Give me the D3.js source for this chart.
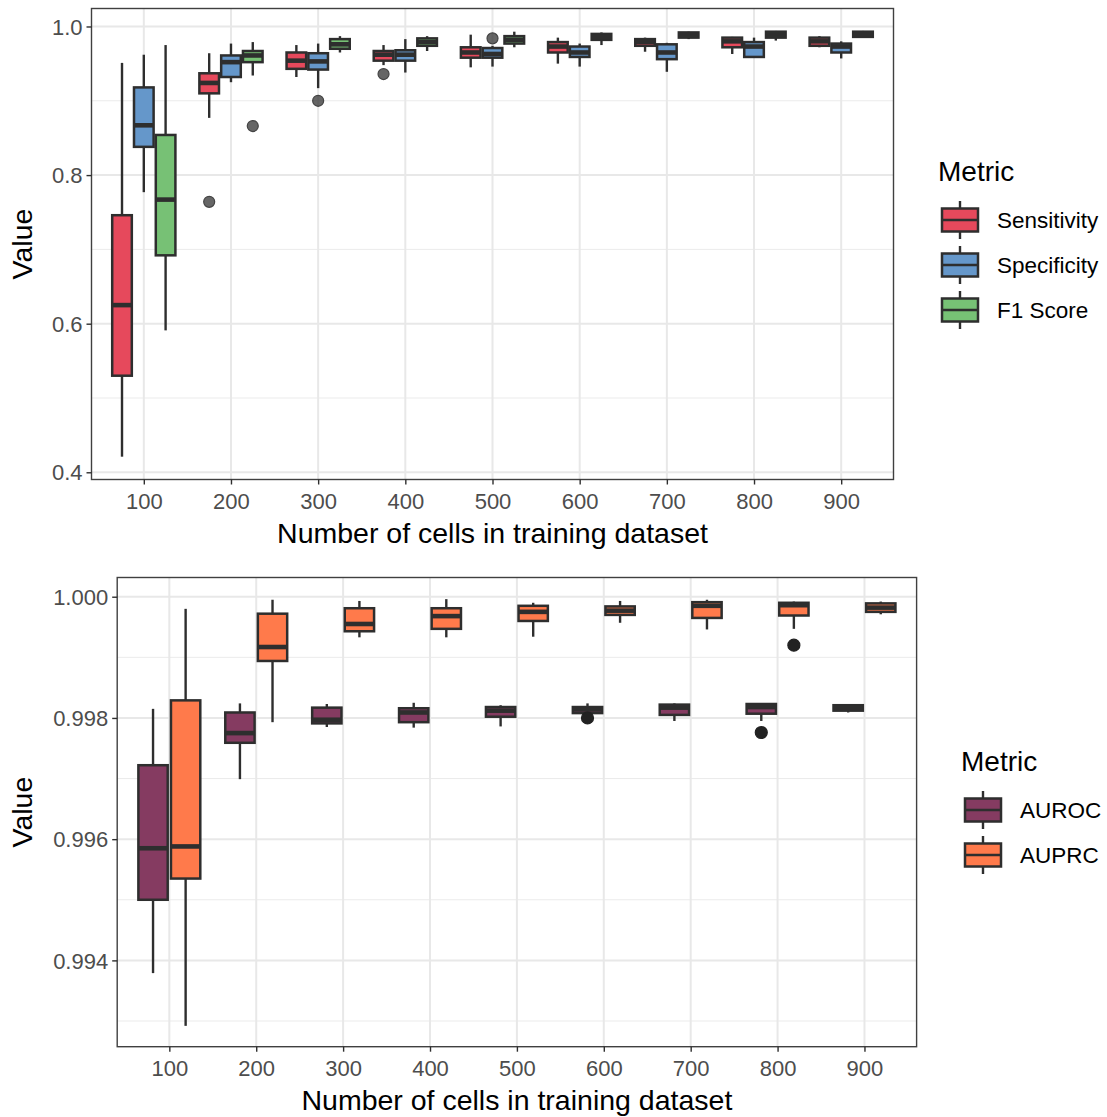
<!DOCTYPE html>
<html>
<head>
<meta charset="utf-8">
<script src="https://cdn.jsdelivr.net/npm/d3@7"></script>
<style>
  body { margin: 0; background: #fff; }
  text { font-family: "Liberation Sans", Arial, Helvetica, sans-serif; }
</style>
</head>
<body>
<div id="chart"></div>
<script>
// 1: DATA
// each box: [lower whisker, Q1, median, Q3, upper whisker]
const sizeLabels = ["100", "200", "300", "400", "500", "600", "700", "800", "900"];

const perfMetrics = ["Sensitivity", "Specificity", "F1 Score"];
const sensitivity = [
    [0.421, 0.530, 0.625, 0.746, 0.951],
    [0.877, 0.910, 0.924, 0.937, 0.964],
    [0.932, 0.943, 0.954, 0.965, 0.975],
    [0.948, 0.954, 0.962, 0.967, 0.975],
    [0.945, 0.958, 0.965, 0.972, 0.989],
    [0.950, 0.965, 0.973, 0.979, 0.985],
    [0.966, 0.974, 0.979, 0.983, 0.985],
    [0.963, 0.972, 0.980, 0.985, 0.986],
    [0.972, 0.974, 0.980, 0.985, 0.987]
];
const specificity = [
    [0.777, 0.838, 0.867, 0.918, 0.962],
    [0.925, 0.932, 0.952, 0.961, 0.977],
    [0.917, 0.942, 0.953, 0.964, 0.977],
    [0.938, 0.954, 0.962, 0.968, 0.983],
    [0.946, 0.958, 0.963, 0.971, 0.974],
    [0.946, 0.959, 0.965, 0.973, 0.977],
    [0.939, 0.956, 0.965, 0.976, 0.978],
    [0.958, 0.959, 0.973, 0.979, 0.985],
    [0.957, 0.965, 0.973, 0.977, 0.980]
];
const f1Score = [
    [0.591, 0.692, 0.767, 0.854, 0.975],
    [0.934, 0.952, 0.961, 0.967, 0.979],
    [0.965, 0.970, 0.976, 0.983, 0.987],
    [0.967, 0.974, 0.979, 0.984, 0.987],
    [0.972, 0.977, 0.982, 0.987, 0.993],
    [0.975, 0.982, 0.986, 0.990, 0.992],
    [0.983, 0.985, 0.989, 0.992, 0.993],
    [0.981, 0.985, 0.989, 0.993, 0.994],
    [0.985, 0.986, 0.990, 0.993, 0.994]
];
const sensitivityOutliers = [[], [0.764], [], [0.936], [], [], [], [], []];
const specificityOutliers = [[], [], [0.900], [], [0.984], [], [], [], []];
const f1ScoreOutliers = [[], [0.866], [], [], [], [], [], [], []];

const aucMetrics = ["AUROC", "AUPRC"];
const auroc = [
    [0.99379, 0.99500, 0.99585, 0.99722, 0.99815],
    [0.99699, 0.99759, 0.99775, 0.99809, 0.99824],
    [0.99785, 0.99791, 0.99797, 0.99817, 0.99823],
    [0.99784, 0.99793, 0.99809, 0.99816, 0.99825],
    [0.99786, 0.99802, 0.99812, 0.99818, 0.99821],
    [0.99808, 0.99808, 0.99814, 0.99818, 0.99824],
    [0.99795, 0.99805, 0.99817, 0.99822, 0.99824],
    [0.99795, 0.99807, 0.99818, 0.99823, 0.99823],
    [0.99809, 0.99812, 0.99817, 0.99821, 0.99822]
];
const auprc = [
    [0.99292, 0.99535, 0.99588, 0.99829, 0.99980],
    [0.99793, 0.99894, 0.99917, 0.99972, 0.99995],
    [0.99933, 0.99943, 0.99955, 0.99981, 0.99993],
    [0.99933, 0.99947, 0.99968, 0.99981, 0.99996],
    [0.99934, 0.99960, 0.99975, 0.99985, 0.99990],
    [0.99957, 0.99970, 0.99977, 0.99984, 0.99993],
    [0.99946, 0.99965, 0.99985, 0.99991, 0.99995],
    [0.99947, 0.99969, 0.99986, 0.99990, 0.99992],
    [0.99971, 0.99975, 0.99982, 0.99989, 0.99992]
];
const aurocOutliers = [[], [], [], [], [], [0.99800], [], [0.99776], []];
const auprcOutliers = [[], [], [], [], [], [], [], [0.99920], []];

const perfTicks = [0.4, 0.6, 0.8, 1.0];
const perfMinor = [0.5, 0.7, 0.9];
const aucTicks = [0.994, 0.996, 0.998, 1.000];
const aucMinor = [0.993, 0.995, 0.997, 0.999];

// styles
const perfColors = ["#E6495C", "#6597CA", "#77C175"];
const aucColors = ["#853B61", "#FF7A4B"];
const lineCol = "#2E2E2E";

// 2: SVG
const svg = d3.select("#chart").append("svg")
    .attr("width", 1107)
    .attr("height", 1117);

function drawPanel(p) {
    const x = d3.scalePoint().domain(sizeLabels).range([p.left, p.right]).padding(0.6);
    const y = d3.scaleLinear().domain(p.yDomain).range([p.bottom, p.top]);
    const step = x.step();
    const k = p.metrics.length;
    const slot = 0.75 / k * step;
    const boxW = slot * 0.9;

    const g = svg.append("g");

    // grid
    g.selectAll(".minor").data(p.minor).join("line")
        .attr("x1", p.left).attr("x2", p.right)
        .attr("y1", d => y(d)).attr("y2", d => y(d))
        .attr("stroke", "#EBEBEB").attr("stroke-width", 1);
    g.selectAll(".majorY").data(p.ticks).join("line")
        .attr("x1", p.left).attr("x2", p.right)
        .attr("y1", d => y(d)).attr("y2", d => y(d))
        .attr("stroke", "#E8E8E8").attr("stroke-width", 2);
    g.selectAll(".majorX").data(sizeLabels).join("line")
        .attr("x1", d => x(d)).attr("x2", d => x(d))
        .attr("y1", p.top).attr("y2", p.bottom)
        .attr("stroke", "#E8E8E8").attr("stroke-width", 2);

    // boxes
    p.metrics.forEach((m, mi) => {
        const off = (mi - (k - 1) / 2) * slot;
        const stats = p.stats[mi];
        const bg = g.append("g");
        stats.forEach((s, i) => {
            const cx = x(sizeLabels[i]) + off;
            bg.append("line")
                .attr("x1", cx).attr("x2", cx)
                .attr("y1", y(s[0])).attr("y2", y(s[1]))
                .attr("stroke", lineCol).attr("stroke-width", 2.4);
            bg.append("line")
                .attr("x1", cx).attr("x2", cx)
                .attr("y1", y(s[3])).attr("y2", y(s[4]))
                .attr("stroke", lineCol).attr("stroke-width", 2.4);
            bg.append("rect")
                .attr("x", cx - boxW / 2)
                .attr("y", y(s[3]))
                .attr("width", boxW)
                .attr("height", Math.max(0.5, y(s[1]) - y(s[3])))
                .attr("fill", p.colors[mi])
                .attr("stroke", lineCol).attr("stroke-width", 2.5);
            bg.append("line")
                .attr("x1", cx - boxW / 2).attr("x2", cx + boxW / 2)
                .attr("y1", y(s[2])).attr("y2", y(s[2]))
                .attr("stroke", lineCol).attr("stroke-width", 4.6);
            p.outliers[mi][i].forEach(v => {
                bg.append("circle")
                    .attr("cx", cx).attr("cy", y(v)).attr("r", p.ptR)
                    .attr("fill", p.ptFill).attr("fill-opacity", p.ptAlpha)
                    .attr("stroke", p.ptStroke).attr("stroke-width", 1.2);
            });
        });
    });

    // border
    g.append("rect")
        .attr("x", p.left).attr("y", p.top)
        .attr("width", p.right - p.left).attr("height", p.bottom - p.top)
        .attr("fill", "none").attr("stroke", "#404040").attr("stroke-width", 1.4);

    // axes
    const ax = g.append("g")
        .attr("transform", `translate(0,${p.bottom})`)
        .call(d3.axisBottom(x).tickSize(5).tickPadding(9));
    const ay = g.append("g")
        .attr("transform", `translate(${p.left},0)`)
        .call(d3.axisLeft(y).tickValues(p.ticks).tickFormat(d3.format(p.fmt)).tickSize(5).tickPadding(4));
    [ax, ay].forEach(a => {
        a.select(".domain").remove();
        a.selectAll(".tick line").attr("stroke", lineCol).attr("stroke-width", 1.4);
        a.selectAll(".tick text")
            .attr("fill", "#4D4D4D")
            .style("font-size", "22px")
            .style("font-family", "'Liberation Sans', Arial, sans-serif");
    });
    ay.selectAll(".tick text").attr("dy", "0.35em");

    // titles
    g.append("text")
        .attr("x", (p.left + p.right) / 2)
        .attr("y", p.bottom + 63)
        .attr("text-anchor", "middle")
        .style("font-size", "28.5px")
        .text("Number of cells in training dataset");
    g.append("text")
        .attr("transform", `translate(32,${(p.top + p.bottom) / 2}) rotate(-90)`)
        .attr("text-anchor", "middle")
        .style("font-size", "28.5px")
        .text("Value");

    // legend
    const lg = g.append("g");
    lg.append("text")
        .attr("x", p.legX).attr("y", p.legY)
        .style("font-size", "28px")
        .text("Metric");
    p.metrics.forEach((m, i) => {
        const cy = p.legY + 39 + i * 45;
        const kx = p.legX + 22;
        lg.append("line")
            .attr("x1", kx).attr("x2", kx)
            .attr("y1", cy - 19).attr("y2", cy + 19)
            .attr("stroke", lineCol).attr("stroke-width", 2.4);
        lg.append("rect")
            .attr("x", kx - 18).attr("y", cy - 11.5)
            .attr("width", 36).attr("height", 23)
            .attr("fill", p.colors[i])
            .attr("stroke", lineCol).attr("stroke-width", 2.5);
        lg.append("line")
            .attr("x1", kx - 18).attr("x2", kx + 18)
            .attr("y1", cy).attr("y2", cy)
            .attr("stroke", lineCol).attr("stroke-width", 2.4);
        lg.append("text")
            .attr("x", kx + 37).attr("y", cy + 8)
            .style("font-size", "22.5px")
            .text(m);
    });
}

// ----------- PANEL 1: Sensitivity / Specificity / F1 -----------
drawPanel({
    left: 91.5, right: 893.5, top: 8.5, bottom: 479.5,
    yDomain: [0.3903, 1.0242],
    ticks: perfTicks, minor: perfMinor, fmt: ".1f",
    metrics: perfMetrics,
    stats: [sensitivity, specificity, f1Score],
    outliers: [sensitivityOutliers, specificityOutliers, f1ScoreOutliers],
    colors: perfColors,
    ptR: 5.5, ptFill: "#333333", ptAlpha: 0.75, ptStroke: "#444444",
    legX: 938, legY: 181
});

// ----------- PANEL 2: AUROC / AUPRC -----------
drawPanel({
    left: 117.2, right: 916.6, top: 577.5, bottom: 1046.7,
    yDomain: [0.992576, 1.000317],
    ticks: aucTicks, minor: aucMinor, fmt: ".3f",
    metrics: aucMetrics,
    stats: [auroc, auprc],
    outliers: [aurocOutliers, auprcOutliers],
    colors: aucColors,
    ptR: 6, ptFill: "#222222", ptAlpha: 1, ptStroke: "#222222",
    legX: 961, legY: 771
});
</script>
</body>
</html>
